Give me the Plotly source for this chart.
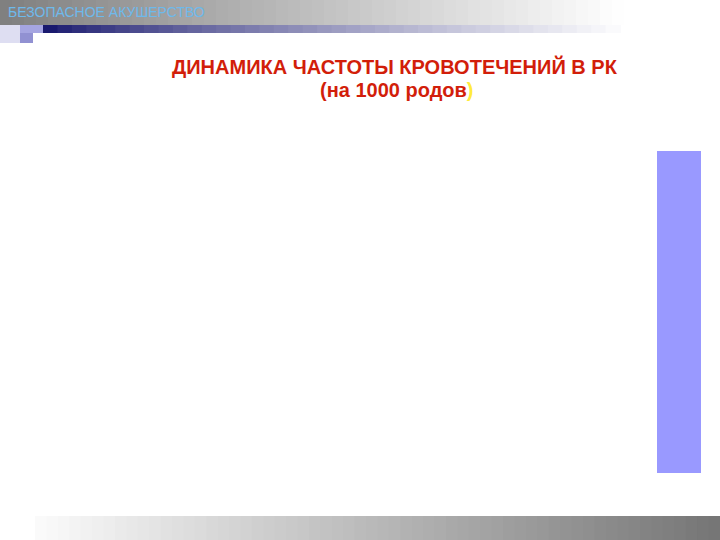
import plotly.graph_objects as go

# slide texts
header_text = "БЕЗОПАСНОЕ АКУШЕРСТВО"
title_line1 = "ДИНАМИКА ЧАСТОТЫ КРОВОТЕЧЕНИЙ В РК"
title_line2 = "(на 1000 родов"

W, H = 720, 540

def px(x):
    return x / W

def py(y):
    return 1 - y / H

def mix(c1, c2, t):
    return "rgb(%d,%d,%d)" % tuple(round(a + (b - a) * t) for a, b in zip(c1, c2))

shapes = []

def rect(x0, y0, x1, y1, color):
    shapes.append(dict(type="rect", xref="paper", yref="paper",
                       x0=px(x0), x1=px(x1), y0=py(y1), y1=py(y0),
                       fillcolor=color, line=dict(width=0), layer="below"))

# header gray band, dark left -> white right
n = 60
for i in range(n):
    t = i / (n - 1)
    rect(i * W / n, 0, (i + 1) * W / n + 1, 25, mix((128, 128, 128), (255, 255, 255), min(1, t * 1.15)))

# navy bar under header
n = 40
for i in range(n):
    t = i / (n - 1)
    x0 = 43 + i * (620 - 43) / n
    rect(x0, 25, x0 + (620 - 43) / n + 1, 33, mix((25, 25, 110), (250, 250, 252), t ** 0.8))

# little squares on the left
rect(0, 25, 20, 43, "rgb(222,222,242)")
rect(20, 25, 43, 33, "rgb(165,165,225)")
rect(20, 33, 33, 43, "rgb(145,145,210)")

# bottom gray band, light left -> dark right
n = 60
for i in range(n):
    t = i / (n - 1)
    x0 = 35 + i * (W - 35) / n
    rect(x0, 516, x0 + (W - 35) / n + 1, H, mix((250, 250, 250), (118, 118, 118), t))

# right purple block
rect(657, 151, 701, 473, "rgb(153,153,255)")

fig = go.Figure()
fig.update_layout(
    width=W, height=H,
    margin=dict(l=0, r=0, t=0, b=0),
    paper_bgcolor="white", plot_bgcolor="white",
    xaxis=dict(visible=False), yaxis=dict(visible=False),
    showlegend=False,
    shapes=shapes,
    annotations=[
        dict(text=header_text, xref="paper", yref="paper", x=px(6), y=py(12),
             xanchor="left", yanchor="middle", showarrow=False,
             font=dict(family="Liberation Sans, Arial", size=14, color="rgb(110,185,235)")),
        dict(text="<b>" + title_line1 + "</b>", xref="paper", yref="paper", x=px(395), y=py(66),
             xanchor="center", yanchor="middle", showarrow=False,
             font=dict(family="Liberation Sans, Arial", size=20, color="rgb(210,30,10)")),
        dict(text="<b>" + title_line2 + "<span style='color:rgb(255,235,60)'>)</span></b>",
             xref="paper", yref="paper", x=px(397), y=py(90),
             xanchor="center", yanchor="middle", showarrow=False,
             font=dict(family="Liberation Sans, Arial", size=20, color="rgb(210,30,10)")),
    ],
)

fig.write_html("out.html", config={"displayModeBar": False},
               post_script="document.body.style.margin='0px';document.body.style.overflow='hidden';")
